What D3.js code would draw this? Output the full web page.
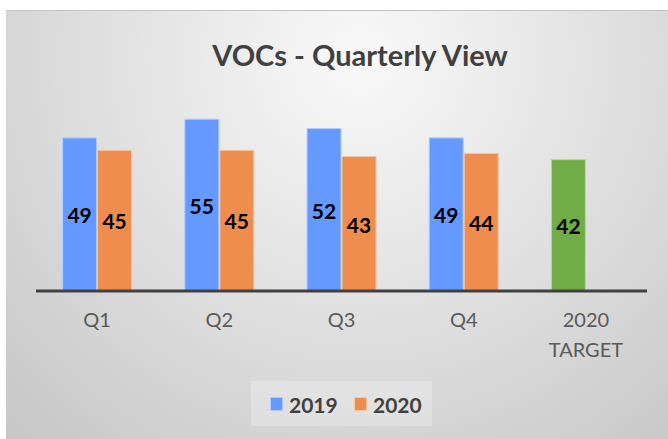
<!DOCTYPE html>
<html>
<head>
<meta charset="utf-8">
<script src="https://cdn.jsdelivr.net/npm/d3@7"></script>
<style>
  html, body { margin: 0; padding: 0; background: #fff; }
  svg { display: block; font-family: Lato, "Open Sans", sans-serif; }
</style>
</head>
<body>
<div id="chart"></div>
<script>
// chart values
const categories = ['Q1', 'Q2', 'Q3', 'Q4', '2020 TARGET'];
const series = ['2019', '2020'];
const values2019 = [49, 55, 52, 49, null];
const values2020 = [45, 45, 43, 44, null];
const targetValues = [null, null, null, null, 42];

const width = 668, height = 439;
const margin = {top: 103, right: 21, bottom: 149, left: 36};

const colors = {
  '2019': '#6699FF',
  '2020': '#EE8D4D',
  target: '#70AD47'
};
const outline = {
  '2019': '#B3CCFF',
  '2020': '#F6C6A6',
  target: '#B8D6A3'
};

const svg = d3.select('#chart').append('svg')
  .attr('width', width)
  .attr('height', height);

// background with soft radial shading
const defs = svg.append('defs');
const grad = defs.append('radialGradient')
  .attr('id', 'bg')
  .attr('gradientUnits', 'userSpaceOnUse')
  .attr('cx', 360).attr('cy', 60).attr('r', 520);
grad.append('stop').attr('offset', '0%').attr('stop-color', '#f9f9f9');
grad.append('stop').attr('offset', '100%').attr('stop-color', '#c6c6c6');

svg.append('rect')
  .attr('x', 6).attr('y', 10)
  .attr('width', width - 6).attr('height', height - 10)
  .attr('fill', 'url(#bg)');
svg.append('line')
  .attr('x1', 6).attr('x2', width)
  .attr('y1', 10.5).attr('y2', 10.5)
  .attr('stroke', '#c4c4c4');

const x = d3.scaleBand()
  .domain(categories)
  .range([margin.left, width - margin.right])
  .paddingInner(0).paddingOuter(0);

const y = d3.scaleLinear()
  .domain([0, 60])
  .range([height - margin.bottom, height - margin.bottom - 60 * 3.115]);

const barW = 35;

// build the bar list from the arrays
const bars = [];
categories.forEach((c, i) => {
  if (values2019[i] != null) bars.push({cat: c, key: '2019', v: values2019[i], slot: 0});
  if (values2020[i] != null) bars.push({cat: c, key: '2020', v: values2020[i], slot: 1});
  if (targetValues[i] != null) bars.push({cat: c, key: 'target', v: targetValues[i], slot: 0});
});

const bx = d => x(d.cat) + x.bandwidth() / 2 - barW + d.slot * barW;

svg.append('g').selectAll('rect')
  .data(bars)
  .join('rect')
  .attr('x', d => bx(d) + 0.5)
  .attr('y', d => y(d.v) + 0.5)
  .attr('width', barW - 1)
  .attr('height', d => y(0) - y(d.v))
  .attr('fill', d => colors[d.key])
  .attr('stroke', d => outline[d.key])
  .attr('stroke-width', 1);

// data labels
svg.append('g').selectAll('text')
  .data(bars)
  .join('text')
  .attr('x', d => bx(d) + barW / 2)
  .attr('y', d => (y(d.v) + y(0)) / 2 + 1)
  .attr('text-anchor', 'middle')
  .attr('dominant-baseline', 'central')
  .attr('font-size', 21)
  .attr('font-weight', 'bold')
  .attr('fill', '#000')
  .text(d => d.v);

// baseline
svg.append('line')
  .attr('x1', margin.left).attr('x2', width - margin.right)
  .attr('y1', y(0) + 1).attr('y2', y(0) + 1)
  .attr('stroke', '#404040')
  .attr('stroke-width', 3);

// category labels
const catLabels = svg.append('g').selectAll('text')
  .data(categories)
  .join('text')
  .attr('x', d => x(d) + x.bandwidth() / 2)
  .attr('y', y(0) + 37)
  .attr('text-anchor', 'middle')
  .attr('font-size', 20)
  .attr('fill', '#595959');
catLabels.each(function(d) {
  const parts = d.split(' ');
  d3.select(this).selectAll('tspan')
    .data(parts)
    .join('tspan')
    .attr('x', x(d) + x.bandwidth() / 2)
    .attr('dy', (p, i) => i === 0 ? 0 : 30)
    .text(p => p);
});

// title
svg.append('text')
  .attr('x', 360)
  .attr('y', 66)
  .attr('text-anchor', 'middle')
  .attr('font-size', 29)
  .attr('font-weight', 'bold')
  .attr('fill', '#404040')
  .text('VOCs - Quarterly View');

// legend
const legend = svg.append('g');
legend.append('rect')
  .attr('x', 251).attr('y', 381)
  .attr('width', 181).attr('height', 45)
  .attr('fill', '#ffffff').attr('fill-opacity', 0.25);

const legendX = [270, 354];
series.forEach((s, i) => {
  legend.append('rect')
    .attr('x', legendX[i] + 0.5).attr('y', 397.5)
    .attr('width', 12).attr('height', 13)
    .attr('fill', colors[s])
    .attr('stroke', outline[s]);
  legend.append('text')
    .attr('x', legendX[i] + 19)
    .attr('y', 404)
    .attr('dominant-baseline', 'central')
    .attr('font-size', 21)
    .attr('font-weight', 'bold')
    .attr('fill', '#404040')
    .text(s);
});
</script>
</body>
</html>
